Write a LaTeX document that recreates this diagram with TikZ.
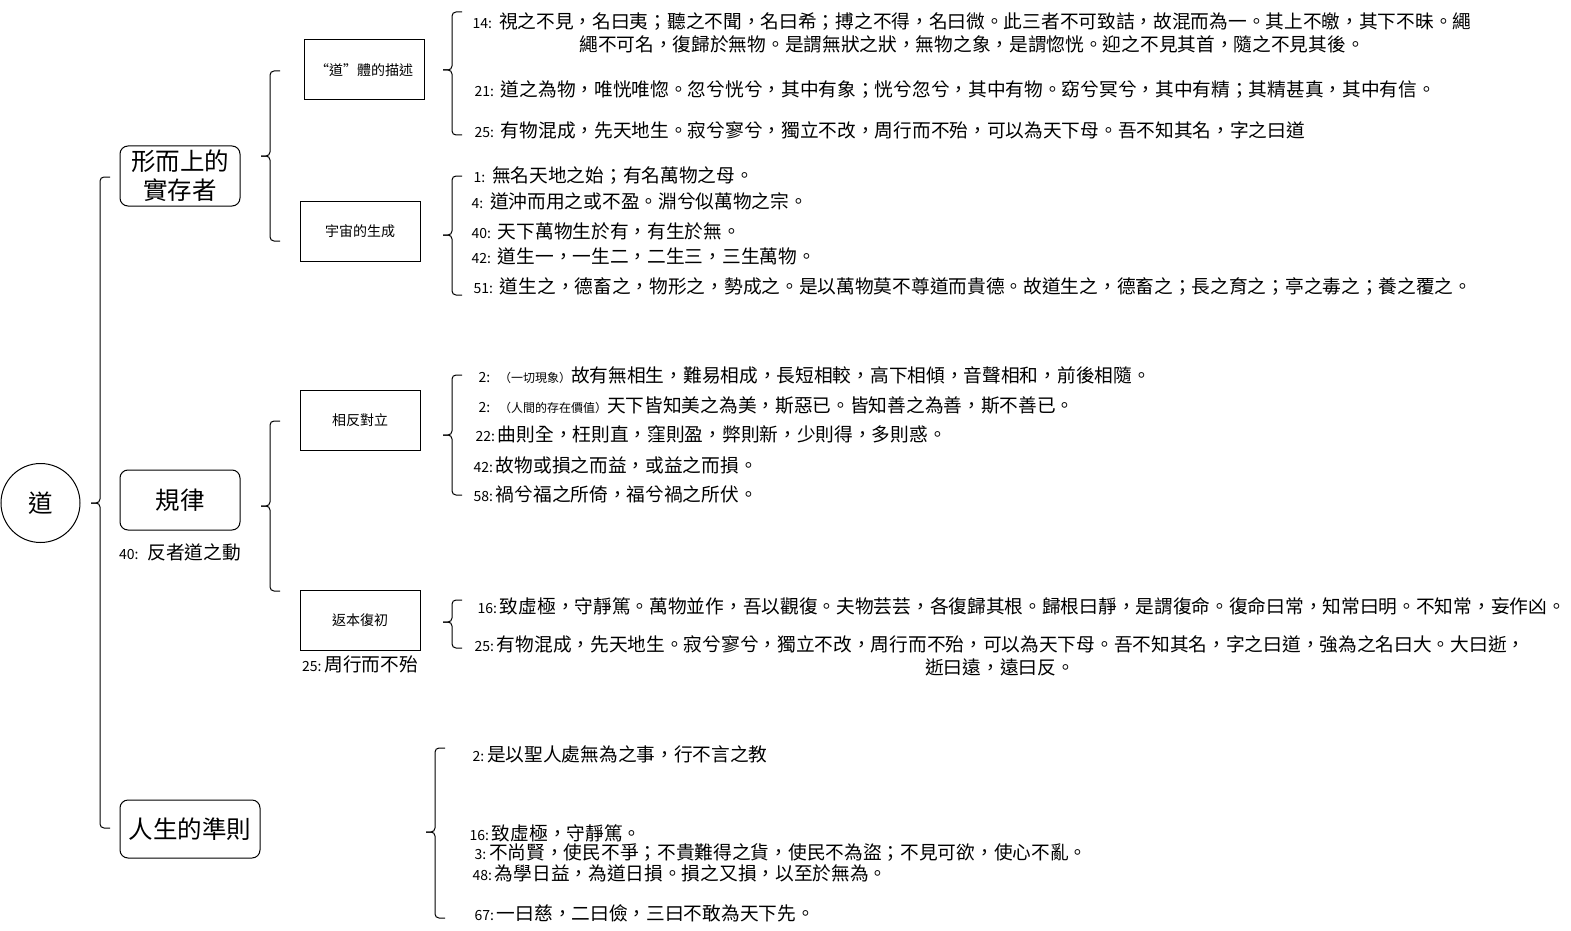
\documentclass[tikz,border=0pt]{standalone}
\usepackage{fontspec}
\setmainfont{Noto Sans CJK TC}
\usetikzlibrary{positioning}
\newcommand{\nr}[1]{{\fontsize{14}{15}\selectfont #1}}
\newcommand{\sm}[1]{{\fontsize{12}{14}\selectfont #1}}
% curly bracket: x, top, cusp, bottom
\newcommand{\curly}[4]{%
  \draw[rounded corners=4pt] (#1+10,#2) -- (#1,#2) -- (#1,#3) -- (#1-9,#3);
  \draw[rounded corners=4pt] (#1-9,#3) -- (#1,#3) -- (#1,#4) -- (#1+10,#4);}

\begin{document}
\begin{tikzpicture}[x=1pt, y=-1pt, line width=1pt,
    topic/.style={draw, rounded corners=8pt, minimum width=120pt, minimum height=60pt, align=center, inner sep=2pt, font=\fontsize{24.5}{29}\selectfont},
    sub/.style={draw, minimum width=120pt, minimum height=60pt, font=\fontsize{14}{16}\selectfont},
    quote/.style={anchor=west, inner sep=0pt, font=\fontsize{18.7}{23}\selectfont},
    note/.style={inner sep=0pt, font=\fontsize{18.7}{22}\selectfont}
  ]
  \useasboundingbox (0,0) rectangle (1571,931);

  % root
  \node[draw, circle, minimum size=79pt, inner sep=0pt, font=\fontsize{24.5}{29}\selectfont] (dao) at (40.5,503) {道};
  \curly{100}{177}{503}{828}

  % main topics
  \node[topic] (meta) at (180,176) {形而上的\\實存者};
  \node[topic] (law) at (180,500) {規律};
  \node[note, below=13pt of law] (lawnote) {\nr{40:}\hspace{9pt}反者道之動};
  \node[topic, minimum width=140pt, minimum height=58pt] (life) at (190,829) {人生的準則};

  % sub topics
  \curly{270}{71}{156}{241}
  \node[sub] (desc) at (364,70) {“道”體的描述};
  \node[sub] (cosmo) at (360,231) {宇宙的生成};
  \curly{270}{421}{506}{591}
  \node[sub] (oppo) at (360,420) {相反對立};
  \node[sub] (retn) at (360,620) {返本復初};
  \node[note, below=5pt of retn] (retnote) {\nr{25:}\hspace{3pt}周行而不殆};

  % quotes: "道"體的描述
  \curly{452}{12}{70}{135}
  \node[quote, anchor=center, align=center] (q14) at (972,32.5) {\nr{14:}\hspace{7pt}視之不見，名曰夷；聽之不聞，名曰希；搏之不得，名曰微。此三者不可致詰，故混而為一。其上不皦，其下不昧。繩\\繩不可名，復歸於無物。是謂無狀之狀，無物之象，是謂惚恍。迎之不見其首，隨之不見其後。};
  \node[quote] (q21) at (474,90) {\nr{21:}\hspace{7pt}道之為物，唯恍唯惚。忽兮恍兮，其中有象；恍兮忽兮，其中有物。窈兮冥兮，其中有精；其精甚真，其中有信。};
  \node[quote] (q25a) at (474,130) {\nr{25:}\hspace{7pt}有物混成，先天地生。寂兮寥兮，獨立不改，周行而不殆，可以為天下母。吾不知其名，字之曰道};

  % quotes: 宇宙的生成
  \curly{452}{176}{235}{295}
  \node[quote] (q1) at (473,176) {\nr{1:}\hspace{7pt}無名天地之始；有名萬物之母。};
  \node[quote] (q4) at (471,201) {\nr{4:}\hspace{7pt}道沖而用之或不盈。淵兮似萬物之宗。};
  \node[quote] (q40) at (471,231) {\nr{40:}\hspace{7pt}天下萬物生於有，有生於無。};
  \node[quote] (q42a) at (471,256) {\nr{42:}\hspace{7pt}道生一，一生二，二生三，三生萬物。};
  \node[quote] (q51) at (473,286) {\nr{51:}\hspace{7pt}道生之，德畜之，物形之，勢成之。是以萬物莫不尊道而貴德。故道生之，德畜之；長之育之；亭之毒之；養之覆之。};

  % quotes: 相反對立
  \curly{452}{375}{435}{495}
  \node[quote] (q2a) at (478,375) {\nr{2:}\hspace{9pt}\sm{（一切現象）}故有無相生，難易相成，長短相較，高下相傾，音聲相和，前後相隨。};
  \node[quote] (q2b) at (478,405) {\nr{2:}\hspace{9pt}\sm{（人間的存在價值）}天下皆知美之為美，斯惡已。皆知善之為善，斯不善已。};
  \node[quote] (q22) at (475,434) {\nr{22:}\hspace{3pt}曲則全，枉則直，窪則盈，弊則新，少則得，多則惑。};
  \node[quote] (q42b) at (473,465) {\nr{42:}\hspace{3pt}故物或損之而益，或益之而損。};
  \node[quote] (q58) at (473,494) {\nr{58:}\hspace{3pt}禍兮福之所倚，福兮禍之所伏。};

  % quotes: 返本復初
  \curly{452}{600}{622}{648}
  \node[quote] (q16a) at (477,606) {\nr{16:}\hspace{3pt}致虛極，守靜篤。萬物並作，吾以觀復。夫物芸芸，各復歸其根。歸根曰靜，是謂復命。復命曰常，知常曰明。不知常，妄作凶。};
  \node[quote, anchor=center, align=center] (q25b) at (1000,655.5) {\nr{25:}\hspace{3pt}有物混成，先天地生。寂兮寥兮，獨立不改，周行而不殆，可以為天下母。吾不知其名，字之曰道，強為之名曰大。大曰逝，\\逝曰遠，遠曰反。};

  % quotes: 人生的準則
  \curly{435}{748}{832}{918}
  \node[quote] (q2c) at (472,754) {\nr{2:}\hspace{3pt}是以聖人處無為之事，行不言之教};
  \node[quote] (q16b) at (469,833) {\nr{16:}\hspace{3pt}致虛極，守靜篤。};
  \node[quote] (q3) at (474,853) {\nr{3:}\hspace{3pt}不尚賢，使民不爭；不貴難得之貨，使民不為盜；不見可欲，使心不亂。};
  \node[quote] (q48) at (472,873) {\nr{48:}\hspace{3pt}為學日益，為道日損。損之又損，以至於無為。};
  \node[quote] (q67) at (474,913) {\nr{67:}\hspace{3pt}一曰慈，二曰儉，三曰不敢為天下先。};
\end{tikzpicture}
\end{document}
